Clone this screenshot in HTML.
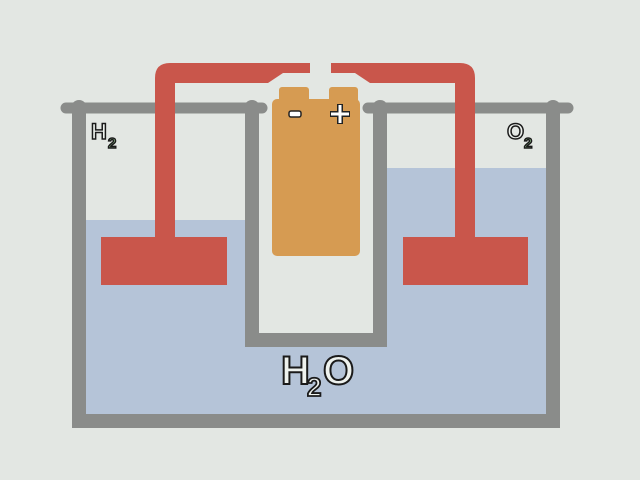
<!DOCTYPE html>
<html><head><style>
html,body{margin:0;padding:0;background:#e3e7e3;}
svg{display:block;}
</style></head><body>
<svg width="640" height="480" viewBox="0 0 640 480" xmlns="http://www.w3.org/2000/svg">
<rect width="640" height="480" fill="#e3e7e3"/>
<rect x="86" y="220" width="160" height="196" fill="#b5c4d8"/>
<rect x="386" y="168" width="162" height="248" fill="#b5c4d8"/>
<rect x="86" y="340" width="462" height="76" fill="#b5c4d8"/>
<path d="M79 108 V421 H553 V108" fill="none" stroke="#8a8c8a" stroke-width="14"/>
<path d="M66 108 H262" stroke="#8a8c8a" stroke-width="11" stroke-linecap="round" fill="none"/>
<path d="M368 108 H568" stroke="#8a8c8a" stroke-width="11" stroke-linecap="round" fill="none"/>
<path d="M252 108 V340 H380 V108" fill="none" stroke="#8a8c8a" stroke-width="14"/>
<rect x="259" y="115" width="114" height="218" fill="#e3e7e3"/>
<circle cx="252" cy="108" r="8" fill="#8a8c8a"/>
<circle cx="380" cy="108" r="8" fill="#8a8c8a"/>
<circle cx="79" cy="108" r="8" fill="#8a8c8a"/>
<circle cx="553" cy="108" r="8" fill="#8a8c8a"/>
<path d="M155 240 V78 Q155 63 170 63 H310 V73 H283 L268 83 H175 V240 Z" fill="#c9564b"/>
<path d="M475 240 V78 Q475 63 460 63 H331 V73 H355 L370 83 H455 V240 Z" fill="#c9564b"/>
<rect x="101" y="237" width="126" height="48" fill="#c9564b"/>
<rect x="403" y="237" width="125" height="48" fill="#c9564b"/>
<rect x="279" y="87" width="30" height="16" rx="3" fill="#d69b52"/>
<rect x="329" y="87" width="29" height="16" rx="3" fill="#d69b52"/>
<rect x="272" y="99" width="88" height="157" rx="5" fill="#d69b52"/>
<rect x="289" y="111" width="12" height="6" rx="2" fill="#fff" stroke="#222" stroke-width="1.5"/>
<path d="M340 104 V124 M330 114 H350" stroke="#222" stroke-width="6"/>
<path d="M340 105 V123 M331 114 H349" stroke="#fff" stroke-width="3"/>
<g font-family="Liberation Sans, sans-serif" font-weight="bold" stroke="#1a1a1a" stroke-width="1.5" fill="#eef2ee">
<text x="91" y="139" font-size="22">H</text>
<text x="108" y="148" font-size="15" fill="#9fd49a">2</text>
<text x="507" y="139" font-size="22">O</text>
<text x="524" y="148" font-size="15" fill="#9fd49a">2</text>
<text x="281" y="384" font-size="40" stroke-width="2">H</text>
<text x="307" y="396" font-size="26" stroke-width="1.8">2</text>
<text x="323" y="384" font-size="40" stroke-width="2">O</text>
</g>
</svg>
</body></html>
